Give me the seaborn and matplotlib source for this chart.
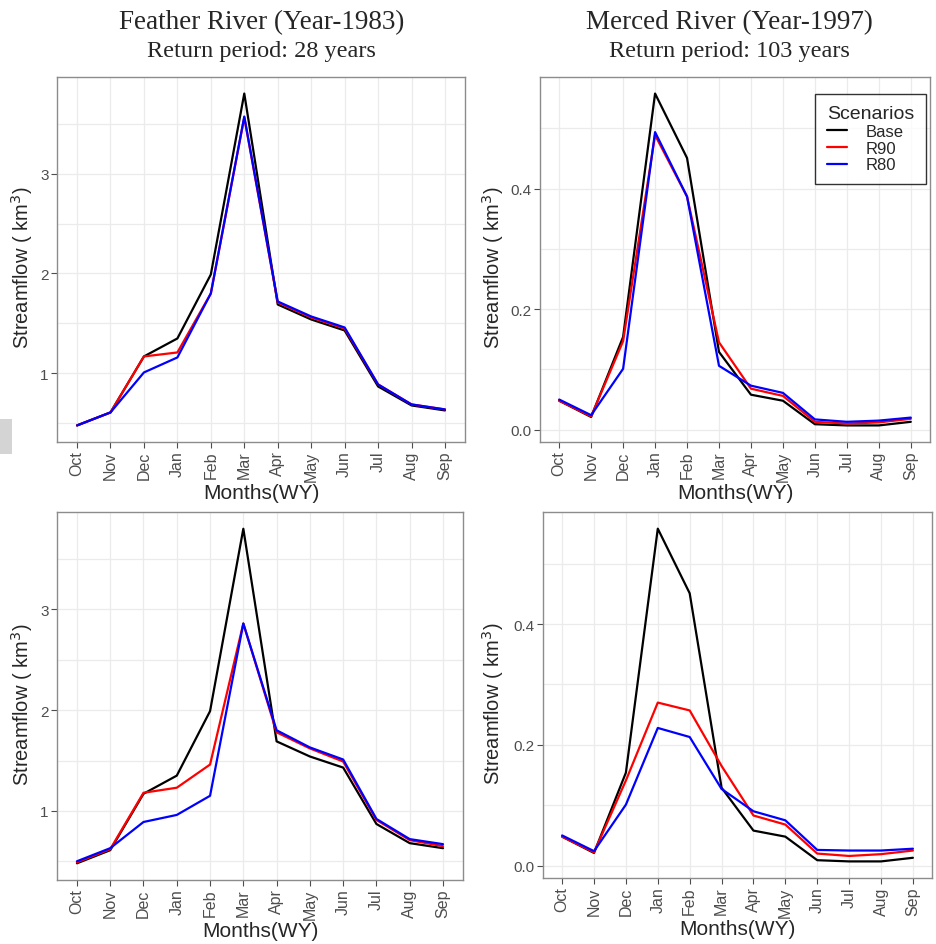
"""
Feather / Merced River monthly streamflow under scenarios (Base, R90, R80)
"""

import numpy as np
import pandas as pd
import matplotlib
matplotlib.use("Agg")
import matplotlib.pyplot as plt
import seaborn as sns
from matplotlib.patches import Rectangle
from matplotlib.ticker import MultipleLocator

sns.set_theme(style="white")
plt.rcParams['font.family'] = ['Liberation Sans', 'DejaVu Sans']

# months of the water year
months = ['Oct', 'Nov', 'Dec', 'Jan', 'Feb', 'Mar', 'Apr', 'May', 'Jun', 'Jul', 'Aug', 'Sep']

# Feather River 1983 (km3)
feather_base = [0.48, 0.61, 1.17, 1.35, 1.99, 3.80, 1.69, 1.54, 1.43, 0.87, 0.68, 0.63]
feather_r90_top = [0.48, 0.61, 1.17, 1.21, 1.80, 3.56, 1.71, 1.56, 1.45, 0.89, 0.69, 0.64]
feather_r80_top = [0.48, 0.61, 1.01, 1.16, 1.80, 3.57, 1.72, 1.57, 1.46, 0.89, 0.69, 0.64]
feather_r90_bot = [0.49, 0.62, 1.18, 1.23, 1.46, 2.86, 1.78, 1.62, 1.49, 0.91, 0.71, 0.65]
feather_r80_bot = [0.50, 0.63, 0.89, 0.96, 1.15, 2.86, 1.80, 1.63, 1.51, 0.92, 0.72, 0.67]

# Merced River 1997 (km3)
merced_base = [0.048, 0.021, 0.154, 0.558, 0.451, 0.129, 0.058, 0.048, 0.009, 0.007, 0.007, 0.013]
merced_r90_top = [0.048, 0.022, 0.147, 0.489, 0.387, 0.145, 0.068, 0.056, 0.013, 0.010, 0.012, 0.018]
merced_r80_top = [0.050, 0.024, 0.101, 0.494, 0.387, 0.106, 0.073, 0.061, 0.017, 0.013, 0.015, 0.020]
merced_r90_bot = [0.048, 0.022, 0.141, 0.270, 0.257, 0.165, 0.083, 0.068, 0.020, 0.016, 0.019, 0.025]
merced_r80_bot = [0.050, 0.024, 0.101, 0.228, 0.213, 0.127, 0.090, 0.075, 0.026, 0.025, 0.025, 0.028]

scenarios = ['Base', 'R90', 'R80']
palette = {'Base': 'black', 'R90': 'red', 'R80': 'blue'}

GRID = '#ebebeb'
TICK_GRAY = '#4d4d4d'
BORDER = '#8c8c8c'


def make_df(base, r90, r80):
    rows = []
    for name, vals in zip(scenarios, [base, r90, r80]):
        for i, v in enumerate(vals):
            rows.append({'x': i, 'Month': months[i], 'Scenario': name, 'Flow': v})
    return pd.DataFrame(rows)


def draw_panel(ax, df, major, legend=False, ylab_x=-0.055):
    sns.lineplot(data=df, x='x', y='Flow', hue='Scenario', hue_order=scenarios,
                 palette=palette, linewidth=1.6, ax=ax, legend=legend, sort=False)

    # ggplot-like 5% expansion
    lo, hi = df['Flow'].min(), df['Flow'].max()
    pad = 0.05 * (hi - lo)
    ax.set_ylim(lo - pad, hi + pad)
    ax.set_xlim(-0.6, 11.6)

    ax.set_xticks(range(len(months)))
    ax.set_xticklabels(months, rotation=90, fontsize=11.5, color=TICK_GRAY)
    ax.yaxis.set_major_locator(MultipleLocator(major))
    ax.yaxis.set_minor_locator(MultipleLocator(major / 2))
    ax.yaxis.set_major_formatter(plt.FormatStrFormatter('%.1f' if major < 1 else '%d'))
    ax.tick_params(axis='y', which='major', labelsize=11, labelcolor=TICK_GRAY)
    ax.tick_params(axis='both', which='major', length=4, width=0.8, color=TICK_GRAY,
                   bottom=True, left=True, pad=2)
    ax.tick_params(axis='y', which='minor', length=0, left=False)

    ax.grid(True, which='major', color=GRID, linewidth=0.9)
    ax.grid(True, which='minor', axis='y', color=GRID, linewidth=0.9)
    ax.set_axisbelow(True)
    for sp in ax.spines.values():
        sp.set_color(BORDER)
        sp.set_linewidth(1.0)

    ax.set_xlabel('Months(WY)', fontsize=15, labelpad=2)
    ax.set_ylabel('Streamflow ( km$^3$)', fontsize=14.5)
    ax.yaxis.set_label_coords(ylab_x, 0.48)

    if legend:
        leg = ax.legend(title='Scenarios', loc='upper right', bbox_to_anchor=(0.99, 0.954),
                        fontsize=12, title_fontsize=14, frameon=True, fancybox=False,
                        handlelength=1.2, handletextpad=1.1, labelspacing=0.1,
                        borderpad=0.7, borderaxespad=0)
        leg.get_frame().set_edgecolor('black')
        leg.get_frame().set_linewidth(1.0)
        leg._legend_box.align = 'left'
        for line in leg.get_lines():
            line.set_linewidth(1.6)


fig = plt.figure(figsize=(9.37, 9.45), dpi=100)

ax_tl = fig.add_axes([0.0608, 0.5312, 0.4355, 0.3863])
ax_tr = fig.add_axes([0.5763, 0.5312, 0.4162, 0.3863])
ax_bl = fig.add_axes([0.0608, 0.0677, 0.4333, 0.3894])
ax_br = fig.add_axes([0.5795, 0.0698, 0.4152, 0.3873])

draw_panel(ax_tl, make_df(feather_base, feather_r90_top, feather_r80_top), 1, ylab_x=-0.055)
draw_panel(ax_tr, make_df(merced_base, merced_r90_top, merced_r80_top), 0.2, legend=True, ylab_x=-0.088)
draw_panel(ax_bl, make_df(feather_base, feather_r90_bot, feather_r80_bot), 1, ylab_x=-0.055)
draw_panel(ax_br, make_df(merced_base, merced_r90_bot, merced_r80_bot), 0.2, ylab_x=-0.095)

# titles (serif, like the original)
serif = ['Liberation Serif', 'DejaVu Serif']
fig.text(0.2795, 0.9765, 'Feather River (Year-1983)', ha='center', va='center',
         fontsize=19.5, family=serif)
fig.text(0.2795, 0.9455, 'Return period: 28 years', ha='center', va='center',
         fontsize=17.5, family=serif)
fig.text(0.7790, 0.9765, 'Merced River (Year-1997)', ha='center', va='center',
         fontsize=19.5, family=serif)
fig.text(0.7790, 0.9455, 'Return period: 103 years', ha='center', va='center',
         fontsize=17.5, family=serif)

# small grey block at left edge present in the source image
fig.patches.append(Rectangle((0, 1 - 455 / 945), 12 / 937, 35 / 945,
                             transform=fig.transFigure, facecolor='#d4d4d4',
                             edgecolor='none', zorder=0))

fig.savefig('out.png', dpi=100)
